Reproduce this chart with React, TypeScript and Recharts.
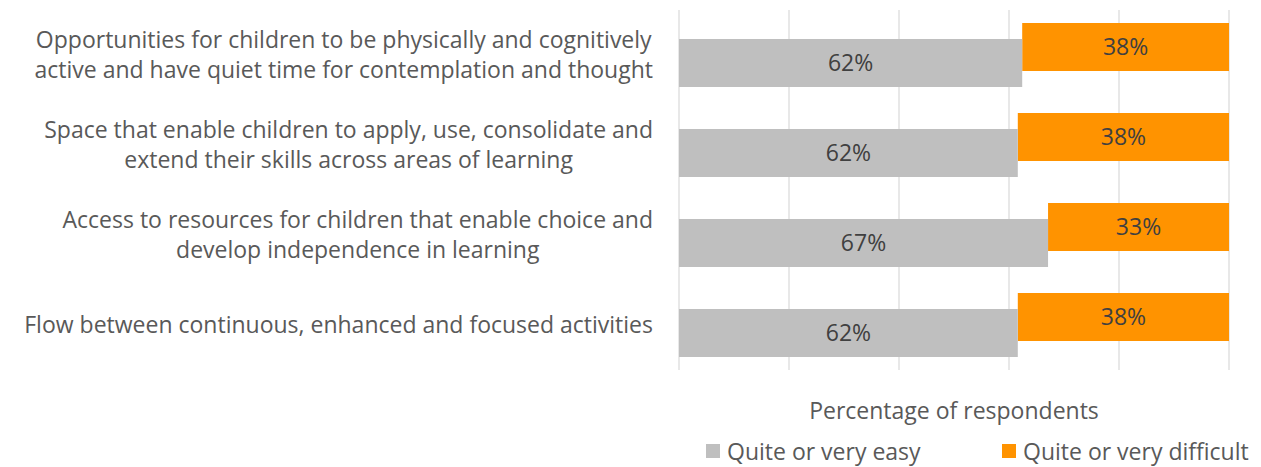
import { BarChart, Bar, XAxis, YAxis, CartesianGrid, LabelList, Legend, Label } from 'recharts';

document.body.style.margin = '0';

const categoryLines = [
  ['Opportunities for children to be physically and cognitively', 'active and have quiet time for contemplation and thought'],
  ['Space that enable children to apply, use, consolidate and', 'extend their skills across areas of learning'],
  ['Access to resources for children that enable choice and', 'develop independence in learning'],
  ['Flow between continuous, enhanced and focused activities'],
];
const easyValues = [62.4, 61.6, 67.1, 61.6];
const difficultValues = [37.6, 38.4, 32.9, 38.4];
const xTicks = [0, 20, 40, 60, 80, 100];
const seriesNames = ['Quite or very easy', 'Quite or very difficult'];
const seriesColors = ['#BFBFBF', '#FF9300'];
const axisTitle = 'Percentage of respondents';

const FONT = '"Open Sans", sans-serif';
const TEXT = '#595959';
const FS = 23;

const data = categoryLines.map((lines, i) => ({
  name: lines.join(' '),
  easy: easyValues[i],
  difficult: difficultValues[i],
  difficultRange: [easyValues[i], easyValues[i] + difficultValues[i]],
}));

const ctx = document.createElement('canvas').getContext('2d');
const textWidth = (s: string) => {
  if (!ctx) return s.length * FS * 0.5;
  ctx.font = `${FS}px "Open Sans"`;
  return ctx.measureText(s).width;
};

const CategoryTick = ({ x, y, index }: any) => {
  const lines = categoryLines[index] ?? [];
  const widest = Math.max(...lines.map(textWidth));
  const cx = x - 26 - widest / 2;
  const lh = 30;
  const top = y - ((lines.length - 1) * lh) / 2;
  return (
    <text textAnchor="middle" fill={TEXT} fontSize={FS} fontFamily={FONT}>
      {lines.map((l, i) => (
        <tspan key={i} x={cx} y={top + i * lh} dy="0.35em">{l}</tspan>
      ))}
    </text>
  );
};

const AxisTitle = ({ viewBox }: any) => {
  const vb = viewBox ?? { x: 679, y: 370, width: 550 };
  return (
    <text x={vb.x + vb.width / 2} y={vb.y + 41} dy="0.35em" textAnchor="middle" fill={TEXT} fontSize={FS} fontFamily={FONT}>
      {axisTitle}
    </text>
  );
};

const LegendContent = () => (
  <div style={{ display: 'flex', paddingLeft: 706, fontFamily: FONT, fontSize: FS, color: TEXT, lineHeight: '22px' }}>
    {seriesNames.map((n, i) => (
      <div key={n} style={{ display: 'flex', alignItems: 'center', width: i === 0 ? 296 : 'auto', whiteSpace: 'nowrap' }}>
        <span style={{ width: 14, height: 14, background: seriesColors[i], marginRight: 7, display: 'inline-block' }} />
        {n}
      </div>
    ))}
  </div>
);

const pct = (v: any) => `${Math.round(Number(v))}%`;
const noTick = () => <g />;

export default function App() {
  return (
    <BarChart
      layout="vertical"
      width={1261}
      height={467}
      data={data}
      margin={{ top: 10, right: 32, bottom: 0, left: 0 }}
      barSize={48}
      barGap={-32}
    >
      <CartesianGrid horizontal={false} stroke="#D9D9D9" strokeWidth={1.2} />
      <XAxis type="number" domain={[0, 100]} ticks={xTicks} tick={noTick} axisLine={false} tickLine={false} height={97} interval={0}>
        <Label content={AxisTitle} />
      </XAxis>
      <YAxis
        type="category"
        dataKey="name"
        width={679}
        axisLine={false}
        tickLine={false}
        tickSize={0}
        tickMargin={0}
        interval={0}
        tick={CategoryTick}
      />
      <Legend
        layout="vertical"
        align="center"
        verticalAlign="middle"
        content={LegendContent}
        wrapperStyle={{ position: 'absolute', top: 440, left: 0, width: 1261 }}
      />
      <Bar dataKey="difficultRange" name={seriesNames[1]} fill={seriesColors[1]} barSize={48} isAnimationActive={false}>
        <LabelList dataKey="difficult" position="center" formatter={pct} fill="#404040" fontSize={FS} fontFamily={FONT} />
      </Bar>
      <Bar dataKey="easy" name={seriesNames[0]} fill={seriesColors[0]} barSize={48} isAnimationActive={false}>
        <LabelList dataKey="easy" position="center" formatter={pct} fill="#404040" fontSize={FS} fontFamily={FONT} />
      </Bar>
    </BarChart>
  );
}
